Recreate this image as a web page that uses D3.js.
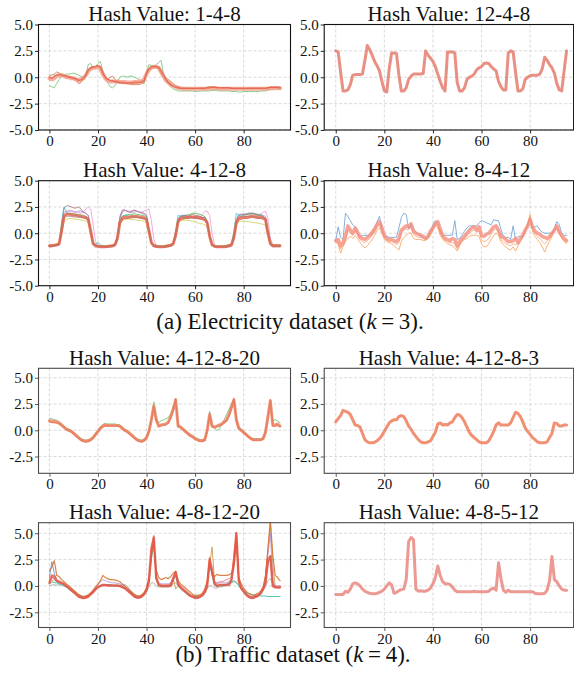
<!DOCTYPE html>
<html>
<head>
<meta charset="utf-8">
<script src="https://cdn.jsdelivr.net/npm/d3@7"></script>
<style>
  html, body { margin: 0; padding: 0; background: #fff; }
  svg { display: block; font-family: "Liberation Serif", "Times New Roman", serif; }
</style>
</head>
<body>
<svg id="chart" width="574" height="677"></svg>
<script>
// ---- data (x = 0..95) ----
const xTicks = [0, 20, 40, 60, 80];
const yTicksElec = [5.0, 2.5, 0.0, -2.5, -5.0];
const yTicksTraffic = [5.0, 2.5, 0.0, -2.5];

const titles = ['Hash Value: 1-4-8', 'Hash Value: 12-4-8', 'Hash Value: 4-12-8', 'Hash Value: 8-4-12',
    'Hash Value: 4-12-8-20', 'Hash Value: 4-12-8-3', 'Hash Value: 4-8-12-20', 'Hash Value: 4-8-5-12'];

// Hash 1-4-8
const p1Main = [-0.1,-0.2,-0.1,0.1,0.2,0.2,0.1,0.0,0.0,-0.1,-0.1,-0.2,
    -0.3,-0.2,-0.1,0.2,0.6,0.8,0.9,0.9,1.0,0.8,0.3,-0.1,
    -0.3,-0.4,-0.4,-0.4,-0.4,-0.45,-0.45,-0.45,-0.5,-0.5,-0.5,-0.45,
    -0.45,-0.4,-0.4,-0.2,0.3,0.7,0.9,1.0,1.0,0.9,0.5,0.1,
    -0.3,-0.5,-0.7,-0.8,-0.9,-1.0,-1.05,-1.1,-1.1,-1.1,-1.1,-1.1,
    -1.1,-1.1,-1.1,-1.1,-1.1,-1.1,-1.05,-1.05,-1.05,-1.05,-1.1,-1.1,
    -1.1,-1.1,-1.1,-1.1,-1.1,-1.1,-1.1,-1.1,-1.1,-1.1,-1.1,-1.1,
    -1.1,-1.1,-1.1,-1.1,-1.1,-1.1,-1.1,-1.05,-1.05,-1.05,-1.05,-1.05];
const p1Brown = [0.2,0.2,0.3,0.5,0.4,0.3,0.2,0.1,0.0,-0.1,-0.2,-0.3,
    -0.6,-0.5,-0.2,0.1,0.5,0.8,0.9,1.0,1.0,0.9,0.3,-0.1,
    -0.2,0.0,0.1,-0.2,-0.4,-0.5,-0.6,-0.6,-0.6,-0.65,-0.7,-0.7,
    -0.7,-0.7,-0.6,-0.5,0.3,0.7,0.8,0.9,0.9,0.8,0.3,0.0,
    -0.1,-0.2,-0.4,-0.6,-0.8,-0.9,-1.0,-1.0,-1.0,-1.05,-1.05,-1.05,
    -1.05,-1.05,-1.0,-1.0,-1.0,-0.95,-0.9,-0.9,-0.95,-0.95,-1.0,-1.0,
    -1.0,-1.0,-1.0,-1.0,-1.05,-1.05,-1.05,-1.05,-1.05,-1.05,-1.05,-1.0,
    -1.0,-1.0,-1.0,-1.0,-1.0,-1.0,-1.0,-0.95,-0.95,-0.95,-0.95,-0.95];
const p1Green = [-0.8,-0.9,-1.0,-0.6,-0.2,0.1,0.2,0.3,0.3,0.35,0.4,0.3,
    0.2,0.1,0.0,0.3,1.2,1.3,0.9,1.0,1.3,1.5,0.6,0.0,
    -0.5,-0.9,-1.0,-0.8,-0.4,0.0,0.1,0.1,0.0,0.1,0.1,0.0,
    -0.1,-0.2,-0.4,-0.6,0.6,1.2,1.1,1.0,1.2,1.4,1.6,0.3,
    -0.3,-0.6,-0.9,-1.1,-1.2,-1.3,-1.3,-1.3,-1.3,-1.3,-1.3,-1.3,
    -1.35,-1.35,-1.3,-1.3,-1.3,-1.3,-1.3,-1.25,-1.25,-1.25,-1.3,-1.3,
    -1.3,-1.3,-1.3,-1.35,-1.35,-1.35,-1.4,-1.4,-1.35,-1.35,-1.35,-1.35,
    -1.35,-1.35,-1.35,-1.3,-1.3,-1.3,-1.2,-1.15,-1.1,-1.1,-1.1,-1.05];
const p1Red = [0.0,-0.1,0.1,0.2,0.25,0.2,0.15,0.1,0.0,0.0,-0.1,-0.15,
    -0.3,-0.25,-0.1,0.2,0.7,0.9,1.0,1.0,1.1,1.0,0.4,0.0,
    -0.2,-0.3,-0.35,-0.4,-0.45,-0.5,-0.5,-0.55,-0.55,-0.55,-0.55,-0.5,
    -0.5,-0.5,-0.45,-0.3,0.4,0.8,1.0,1.05,1.0,0.95,0.6,0.2,
    -0.2,-0.5,-0.7,-0.85,-0.95,-1.0,-1.05,-1.05,-1.05,-1.05,-1.05,-1.05,
    -1.05,-1.05,-1.05,-1.05,-1.05,-1.0,-1.0,-0.95,-0.95,-1.0,-1.0,-1.0,
    -1.0,-1.0,-1.0,-1.05,-1.05,-1.05,-1.05,-1.05,-1.05,-1.05,-1.05,-1.05,
    -1.05,-1.05,-1.05,-1.05,-1.05,-1.05,-1.0,-0.95,-0.95,-0.95,-0.95,-1.0];

// Hash 12-4-8
const p2Main = [2.5,2.4,0.5,-1.3,-1.3,-1.2,-0.7,0.2,0.25,0.25,0.25,0.3,
    1.6,3.0,2.6,2.1,1.5,1.1,0.6,-0.4,-1.3,-1.4,0.8,2.3,
    2.3,2.25,0.2,-1.3,-1.3,-1.0,-0.2,0.1,0.3,0.3,0.3,0.3,
    0.35,2.5,2.1,1.8,1.5,1.0,0.3,-0.4,-1.0,-1.3,2.4,2.4,
    2.4,2.3,-0.5,-1.3,-1.3,-1.0,-0.2,0.0,0.1,0.3,0.7,0.9,
    1.0,1.3,1.35,1.3,1.0,0.8,0.6,-0.4,-0.9,-1.2,-1.2,2.3,
    2.5,2.4,0.5,-1.3,-1.3,-1.1,-0.2,0.0,0.15,0.2,0.2,0.2,
    0.3,0.8,1.9,1.6,1.2,0.9,0.4,-0.6,-1.2,-1.3,0.6,2.5];

// Hash 4-12-8
const p3Main = [-1.2,-1.2,-1.15,-1.1,-1.0,
    0.2,1.6,1.8,1.8,1.75,1.7,1.7,1.65,1.6,1.55,1.5,1.3,0.2,-1.0,-1.2,-1.25,
    -1.3,-1.3,-1.3,-1.25,-1.25,-1.2,-1.1,
    -0.5,1.0,1.4,1.5,1.5,1.55,1.6,1.6,1.6,1.55,1.5,1.45,1.3,0.2,-0.9,-1.2,-1.25,
    -1.3,-1.3,-1.3,-1.25,-1.2,-1.15,-1.0,
    -0.2,1.1,1.4,1.45,1.5,1.5,1.55,1.55,1.5,1.5,1.45,1.4,1.3,1.0,-0.3,-1.1,-1.25,
    -1.3,-1.3,-1.3,-1.3,-1.25,-1.2,-1.1,
    -0.4,1.0,1.4,1.45,1.5,1.5,1.55,1.6,1.6,1.55,1.5,1.5,1.45,1.3,0.0,-1.0,-1.2,-1.2,-1.2,-1.2];
const p3Pink = [-1.2,-1.2,-1.2,-1.15,-1.1,
    0.5,2.0,2.1,2.2,2.2,2.1,2.0,2.0,1.9,2.0,2.3,2.5,2.3,0.8,-0.8,-1.2,
    -1.25,-1.3,-1.3,-1.3,-1.3,-1.25,-1.2,
    -0.8,1.5,2.2,2.2,2.1,2.1,2.1,2.2,2.1,2.0,2.0,2.1,2.2,2.3,1.2,-0.6,-1.2,
    -1.3,-1.3,-1.3,-1.3,-1.25,-1.2,-1.1,
    -0.5,1.0,1.5,1.6,1.6,1.5,1.5,1.4,1.4,1.4,1.5,1.8,2.1,2.1,1.7,0.0,-1.1,
    -1.3,-1.3,-1.3,-1.3,-1.3,-1.25,-1.2,
    -0.6,1.2,1.6,1.7,1.7,1.8,1.8,1.8,1.8,1.7,1.7,1.8,2.0,2.1,1.4,-0.5,-1.1,-1.2,-1.2,-1.2];
const p3Brown = [-1.25,-1.25,-1.2,-1.15,-1.1,
    0.8,2.4,2.6,2.6,2.5,2.4,2.4,2.5,2.3,2.0,1.9,1.7,0.3,-1.0,-1.2,-1.25,
    -1.3,-1.3,-1.3,-1.3,-1.25,-1.2,-1.15,
    -0.3,1.4,2.0,2.2,2.1,2.0,2.1,2.2,2.1,2.0,1.9,1.8,1.6,0.3,-0.9,-1.2,-1.3,
    -1.3,-1.3,-1.3,-1.3,-1.25,-1.2,-1.1,
    0.0,1.3,1.6,1.7,1.7,1.6,1.7,1.8,1.7,1.7,1.6,1.5,1.5,1.1,-0.3,-1.1,-1.3,
    -1.3,-1.3,-1.3,-1.3,-1.3,-1.25,-1.2,
    -0.3,1.2,1.7,1.8,1.8,1.8,1.9,1.9,1.9,1.8,1.7,1.7,1.6,1.4,0.1,-1.0,-1.2,-1.25,-1.25,-1.25];
const p3Olive = [-1.1,-1.1,-1.1,-1.05,-1.0,
    0.0,1.1,1.3,1.4,1.4,1.35,1.3,1.3,1.25,1.2,1.15,1.0,0.0,-1.0,-1.1,-1.15,
    -1.2,-1.2,-1.2,-1.2,-1.15,-1.1,-1.0,
    -0.5,0.8,1.2,1.3,1.35,1.35,1.3,1.3,1.25,1.2,1.2,1.1,1.0,0.0,-0.9,-1.1,-1.15,
    -1.2,-1.2,-1.2,-1.15,-1.1,-1.05,-1.0,
    -0.3,0.9,1.2,1.25,1.25,1.2,1.2,1.15,1.1,1.0,0.9,0.9,0.8,0.6,-0.4,-1.0,-1.15,
    -1.2,-1.2,-1.2,-1.2,-1.15,-1.1,-1.0,
    -0.5,0.8,1.1,1.15,1.15,1.1,1.1,1.05,1.0,1.0,0.95,0.9,0.85,0.8,-0.1,-0.9,-1.1,-1.1,-1.1,-1.1];
const p3Cyan = [-1.2,-1.2,-1.2,-1.15,-1.1,
    1.0,2.5,2.0,1.8,1.8,1.7,1.7,1.6,1.6,1.5,1.5,1.3,0.1,-1.0,-1.0,-0.9,
    -1.1,-1.2,-1.25,-1.25,-1.2,-1.2,-1.1,
    -0.4,1.1,1.6,1.7,1.7,1.6,1.6,1.6,1.55,1.5,1.5,1.5,1.3,0.2,-0.9,-1.2,-1.2,
    -1.25,-1.25,-1.25,-1.2,-1.2,-1.1,-1.0,
    0.2,1.7,1.6,1.5,1.5,1.5,1.5,1.5,1.5,1.45,1.4,1.4,1.3,0.9,-0.3,-1.1,-1.2,
    -1.25,-1.25,-1.25,-1.25,-1.2,-1.2,-1.0,
    0.2,1.9,1.7,1.6,1.6,1.6,1.6,1.6,1.6,1.55,1.5,1.5,1.45,1.3,0.0,-1.0,-1.2,-1.2,-1.2,-1.2];
const p3Green = [-1.15,-1.15,-1.15,-1.1,-1.05,
    0.1,1.5,1.8,1.9,1.9,1.85,1.8,1.8,1.75,1.7,1.6,1.4,0.2,-0.9,-1.15,-1.2,
    -1.2,-1.25,-1.25,-1.2,-1.2,-1.15,-1.05,
    -0.4,1.1,1.6,1.7,1.75,1.8,1.8,1.85,1.8,1.75,1.7,1.65,1.5,0.3,-0.8,-1.15,-1.2,
    -1.25,-1.25,-1.25,-1.2,-1.15,-1.1,-0.95,
    -0.1,1.2,1.5,1.6,1.7,1.75,1.8,1.9,1.9,1.85,1.8,1.7,1.6,1.2,-0.2,-1.05,-1.2,
    -1.25,-1.25,-1.25,-1.25,-1.2,-1.15,-1.05,
    -0.3,1.1,1.5,1.6,1.7,1.75,1.8,1.85,1.85,1.8,1.75,1.7,1.6,1.4,0.1,-0.95,-1.15,-1.15,-1.15,-1.15];
const p3Purple = [-1.2,-1.2,-1.2,-1.15,-1.1,
    0.3,1.8,2.0,2.1,2.1,2.0,2.0,2.1,2.1,2.0,1.9,1.7,0.4,-0.9,-1.2,-1.25,
    -1.3,-1.3,-1.3,-1.3,-1.25,-1.2,-1.1,
    -0.2,1.6,2.2,2.2,2.1,2.0,2.0,2.0,2.1,2.0,2.0,1.9,1.8,0.4,-0.8,-1.2,-1.3,
    -1.3,-1.3,-1.3,-1.3,-1.25,-1.2,-1.05,
    -0.1,1.3,1.7,1.7,1.7,1.65,1.6,1.6,1.6,1.6,1.55,1.5,1.5,1.1,-0.3,-1.1,-1.25,
    -1.3,-1.3,-1.3,-1.3,-1.3,-1.25,-1.15,
    -0.2,1.3,1.8,1.8,1.8,1.85,1.9,1.9,1.9,1.85,1.8,1.8,1.7,1.6,0.2,-0.9,-1.2,-1.25,-1.25,-1.25];
const p3Gray = [-1.3,-1.3,-1.25,-1.2,-1.15,
    0.0,1.4,1.6,1.6,1.6,1.55,1.5,1.5,1.5,1.45,1.4,1.2,0.0,-1.1,-1.3,-1.3,
    -1.35,-1.35,-1.35,-1.35,-1.3,-1.3,-1.2,
    -0.6,0.9,1.3,1.4,1.4,1.45,1.45,1.5,1.5,1.45,1.4,1.35,1.2,0.1,-1.0,-1.3,-1.35,
    -1.35,-1.35,-1.35,-1.3,-1.3,-1.25,-1.1,
    -0.3,1.0,1.3,1.35,1.4,1.4,1.45,1.45,1.4,1.4,1.35,1.3,1.2,0.9,-0.4,-1.2,-1.3,
    -1.35,-1.35,-1.35,-1.35,-1.3,-1.3,-1.2,
    -0.5,0.9,1.3,1.35,1.4,1.4,1.45,1.5,1.5,1.45,1.4,1.4,1.35,1.2,-0.1,-1.1,-1.3,-1.3,-1.3,-1.3];

// Hash 8-4-12
const p4Main = [-0.7,-0.6,-1.2,-0.9,-0.3,0.7,0.3,0.0,0.5,0.1,-0.4,-0.5,
    -0.6,-0.4,-0.2,0.1,0.4,0.8,1.1,0.5,-0.2,-0.5,-0.6,-0.6,
    -0.7,-0.8,-0.5,0.3,0.5,0.7,0.6,0.9,0.2,0.0,-0.1,-0.2,
    -0.3,-0.5,-0.3,0.2,0.5,0.9,1.1,0.4,-0.2,-0.5,-0.6,-0.7,
    -0.5,-0.6,-1.2,-0.8,-0.5,-0.3,0.0,0.3,0.5,0.6,0.3,0.6,
    -0.2,-0.3,-0.1,0.0,0.3,0.6,0.7,0.3,-0.3,-0.4,-0.6,-0.8,
    -0.8,-0.7,-0.5,-0.9,-0.5,-0.2,0.3,0.7,1.3,0.6,0.2,0.0,
    -0.1,-0.3,-0.4,-0.5,-0.3,0.0,0.3,0.7,0.1,-0.2,-0.5,-0.7];
const p4Blue = [-0.7,0.6,-0.4,-0.6,1.9,1.6,1.2,0.8,0.6,-0.1,-0.3,-0.2,
    -0.2,-0.2,-0.2,-0.1,0.5,1.1,1.6,0.5,-0.3,-0.3,-0.4,-0.4,
    -0.4,-0.4,0.5,1.5,1.9,1.8,0.4,0.9,0.4,0.1,-0.1,-0.2,
    -0.4,-0.5,-0.3,0.2,0.8,1.2,0.9,0.3,-0.2,-0.2,-0.2,-0.2,
    -0.2,1.2,-0.6,-0.5,-0.2,0.2,0.5,0.7,0.7,0.7,0.7,1.0,
    1.2,1.1,1.0,0.9,0.8,1.3,1.2,1.2,0.4,-0.3,-0.4,-0.4,
    -0.6,0.7,-0.6,-0.3,-0.3,-0.3,0.3,0.7,1.6,0.5,0.6,0.7,
    0.3,0.1,0.0,0.0,0.0,0.0,0.5,1.1,0.8,0.0,-0.2,-0.2];
const p4Orange = [-0.9,-1.0,-1.9,-1.3,-0.8,-0.5,-0.3,-0.5,-0.2,-0.5,-0.9,-1.2,
    -1.4,-1.2,-0.9,-0.6,-0.2,0.3,0.5,0.0,-0.6,-0.8,-0.9,-1.0,
    -1.2,-1.4,-1.6,-0.8,-0.4,-0.2,0.0,0.0,-0.5,-0.6,-0.6,-0.6,
    -0.7,-0.7,-0.5,-0.2,0.3,0.8,0.5,-0.2,-0.6,-0.8,-1.0,-1.1,
    -1.2,-1.4,-1.7,-1.2,-0.8,-0.6,-0.5,-0.3,-0.2,-0.2,-0.2,-0.3,
    -1.0,-1.3,-1.3,-1.0,-0.6,-0.2,0.0,-0.2,-0.8,-1.1,-1.3,-1.5,
    -1.6,-1.3,-1.7,-1.2,-0.8,-0.4,0.3,0.9,1.8,0.2,-0.3,-0.6,
    -0.9,-1.3,-1.8,-1.2,-0.8,-0.3,0.2,0.6,0.0,-0.5,-0.8,-1.0];
const p4Light = [-0.8,-0.9,-1.5,-1.1,-0.6,0.3,0.0,-0.2,0.2,-0.1,-0.6,-0.8,
    -0.9,-0.7,-0.5,-0.2,0.1,0.6,0.9,0.3,-0.4,-0.7,-0.8,-0.8,
    -0.9,-1.1,-0.9,0.0,0.3,0.4,0.3,0.6,-0.1,-0.3,-0.4,-0.4,
    -0.5,-0.6,-0.4,0.0,0.4,0.9,0.8,0.1,-0.4,-0.7,-0.8,-0.9,
    -0.9,-1.0,-1.5,-1.0,-0.7,-0.5,-0.2,0.0,0.2,0.3,0.1,0.2,
    -0.6,-0.8,-0.7,-0.5,-0.1,0.3,0.4,0.1,-0.6,-0.8,-1.0,-1.1,
    -1.2,-1.0,-1.1,-1.0,-0.7,-0.3,0.3,0.8,1.5,0.4,0.0,-0.3,
    -0.5,-0.8,-1.0,-0.8,-0.5,-0.1,0.2,0.6,0.0,-0.4,-0.7,-0.9];

// Hash 4-12-8-20
const p5Main = [0.9,0.85,0.85,0.8,0.7,0.5,0.3,0.1,0.0,-0.1,-0.3,-0.5,
    -0.7,-0.9,-1.0,-1.05,-1.0,-0.9,-0.7,-0.4,-0.1,0.2,0.4,0.5,
    0.45,0.45,0.45,0.45,0.45,0.4,0.2,0.0,-0.1,-0.3,-0.5,-0.7,
    -0.9,-1.0,-1.05,-0.95,-0.7,-0.1,1.0,2.3,1.0,0.4,0.5,0.55,
    0.6,0.8,1.3,2.0,2.9,0.4,0.3,0.1,-0.1,-0.3,-0.5,-0.6,
    -0.8,-0.9,-1.0,-1.0,-0.9,0.0,1.5,0.4,0.3,0.4,0.5,0.6,
    0.8,1.0,1.5,2.2,2.9,1.0,0.2,0.0,-0.2,-0.4,-0.6,-0.8,
    -0.9,-0.9,-0.9,-0.9,-0.8,-0.2,1.3,2.8,0.5,0.5,0.6,0.4];
const p5Green = [1.1,1.1,1.0,0.95,0.8,0.6,0.4,0.2,0.1,0.0,-0.2,-0.4,
    -0.6,-0.8,-0.9,-0.95,-0.9,-0.8,-0.6,-0.3,0.0,0.3,0.55,0.65,
    0.6,0.6,0.6,0.6,0.55,0.5,0.3,0.1,0.0,-0.2,-0.4,-0.6,
    -0.8,-0.9,-0.95,-0.85,-0.6,0.0,1.2,2.7,1.2,0.7,0.9,1.0,
    1.1,1.2,1.6,2.3,2.8,0.6,0.4,0.2,0.0,-0.2,-0.4,-0.5,
    -0.7,-0.8,-0.9,-0.9,-0.8,0.1,1.8,0.6,0.2,0.0,0.1,0.6,
    1.0,1.5,2.0,2.5,3.0,1.2,0.3,0.1,-0.1,-0.3,-0.5,-0.7,
    -0.8,-0.8,-0.8,-0.8,-0.7,-0.1,1.2,2.7,0.9,1.0,0.9,0.7];
const p5Red = [0.8,0.75,0.75,0.7,0.6,0.45,0.25,0.05,-0.05,-0.15,-0.35,-0.55,
    -0.75,-0.95,-1.05,-1.1,-1.05,-0.95,-0.75,-0.45,-0.15,0.15,0.35,0.45,
    0.4,0.4,0.4,0.4,0.4,0.35,0.15,-0.05,-0.15,-0.35,-0.55,-0.75,
    -0.95,-1.05,-1.1,-1.0,-0.75,-0.15,0.9,2.2,0.9,0.35,0.45,0.5,
    0.55,0.7,1.2,1.9,3.0,0.35,0.25,0.05,-0.15,-0.35,-0.55,-0.65,
    -0.85,-0.95,-1.05,-1.05,-0.95,-0.05,1.4,0.35,0.25,0.35,0.45,0.55,
    0.7,0.9,1.4,2.1,3.0,0.9,0.15,-0.05,-0.25,-0.45,-0.65,-0.85,
    -0.95,-0.95,-0.95,-0.95,-0.85,-0.25,1.2,2.9,0.4,0.4,0.5,0.35];

// Hash 4-12-8-3
const p6Main = [0.8,1.1,1.4,1.9,1.8,1.7,1.5,1.0,0.5,0.45,0.3,-0.3,
    -0.9,-1.1,-1.2,-1.2,-1.15,-1.0,-0.8,-0.5,-0.1,0.3,0.7,0.9,
    1.0,1.0,1.3,1.4,1.3,0.9,0.4,0.1,-0.3,-0.6,-0.9,-1.1,
    -1.2,-1.2,-1.1,-1.0,-0.6,-0.2,0.6,0.7,0.5,0.55,0.5,0.7,
    0.8,1.2,1.5,1.45,1.2,0.8,0.3,-0.2,-0.5,-0.7,-0.9,-1.1,
    -1.2,-1.2,-1.2,-1.0,-0.6,-0.1,0.5,0.7,0.5,0.5,0.5,0.5,
    0.7,1.2,1.7,1.6,1.3,0.8,0.2,-0.1,-0.4,-0.7,-0.9,-1.1,
    -1.2,-1.2,-1.2,-1.1,-0.7,-0.3,0.7,0.65,0.4,0.4,0.5,0.5];

// Hash 4-8-12-20
const p7Main = [0.3,1.0,0.9,0.5,0.4,0.3,0.2,0.0,-0.2,-0.4,-0.6,-0.8,
    -1.0,-1.1,-1.15,-1.1,-1.0,-0.8,-0.6,-0.3,-0.1,0.0,0.1,0.1,
    0.05,0.05,0.05,0.05,0.05,0.0,-0.1,-0.2,-0.4,-0.6,-0.8,-1.0,
    -1.1,-1.1,-1.0,-0.8,-0.4,0.5,3.5,4.6,0.8,0.1,0.0,0.0,
    0.0,0.0,0.0,0.7,1.3,0.2,-0.1,-0.3,-0.5,-0.7,-0.9,-1.0,
    -1.1,-1.1,-1.0,-0.9,-0.6,0.0,2.5,1.5,0.2,0.0,0.1,0.1,
    0.1,0.1,0.1,0.6,2.2,5.0,0.5,-0.2,-0.5,-0.8,-1.0,-1.1,
    -1.1,-1.0,-0.9,-0.7,-0.3,0.3,2.5,2.8,0.0,-0.1,-0.1,-0.1];
const p7Orange = [1.4,1.8,2.4,1.0,0.9,0.6,0.4,0.2,0.0,-0.2,-0.4,-0.6,
    -0.8,-0.9,-1.0,-0.95,-0.85,-0.65,-0.4,-0.1,0.2,0.5,1.0,0.8,
    0.7,0.6,0.6,0.55,0.5,0.4,0.2,0.0,-0.2,-0.4,-0.6,-0.8,
    -0.9,-0.95,-0.85,-0.6,-0.2,0.8,3.0,4.0,1.5,0.8,0.6,0.7,
    0.8,0.7,0.9,1.2,1.4,0.5,0.2,0.0,-0.2,-0.4,-0.6,-0.8,
    -0.9,-0.9,-0.85,-0.7,-0.3,0.5,2.7,1.0,0.9,1.1,1.0,1.0,
    1.0,1.0,1.05,1.2,2.0,5.0,0.8,0.2,-0.2,-0.5,-0.7,-0.8,
    -0.9,-0.8,-0.7,-0.5,-0.1,1.0,3.5,6.2,3.0,1.0,0.8,0.5];
const p7Olive = [0.2,0.5,0.6,0.4,0.3,0.2,0.1,0.0,-0.2,-0.4,-0.6,-0.8,
    -1.0,-1.1,-1.15,-1.1,-1.0,-0.8,-0.6,-0.3,-0.1,0.0,0.1,0.1,
    0.1,0.1,0.05,0.05,0.0,0.0,-0.1,-0.2,-0.4,-0.6,-0.8,-1.0,
    -1.05,-1.05,-0.95,-0.75,-0.4,0.4,3.0,4.2,0.6,0.0,0.0,0.0,
    0.0,0.1,0.3,0.8,-0.3,0.0,-0.2,-0.4,-0.6,-0.8,-0.9,-1.0,
    -1.1,-1.1,-1.0,-0.85,-0.5,0.3,2.0,3.7,0.5,0.0,0.0,0.1,
    0.1,0.2,0.3,0.6,2.5,4.0,0.3,-0.3,-0.6,-0.8,-0.9,-1.0,
    -1.0,-0.95,-0.85,-0.6,-0.2,0.8,3.5,6.0,2.0,0.0,-0.1,-0.1];
const p7Teal = [0.2,0.4,0.3,0.3,0.2,0.1,0.0,-0.1,-0.3,-0.5,-0.6,-0.8,
    -0.9,-1.0,-1.0,-0.95,-0.9,-0.7,-0.5,-0.3,-0.1,0.0,0.1,0.1,
    0.1,0.1,0.05,0.0,0.0,-0.05,-0.1,-0.2,-0.4,-0.5,-0.7,-0.9,
    -1.0,-1.0,-0.9,-0.7,-0.4,0.3,2.5,4.0,0.7,0.0,0.0,0.0,
    0.0,0.0,0.1,0.5,1.0,0.0,-0.2,-0.4,-0.6,-0.7,-0.9,-1.0,
    -1.0,-1.0,-0.95,-0.8,-0.5,0.2,2.0,1.0,0.1,0.0,0.0,0.0,
    0.1,0.1,0.2,0.4,0.5,0.3,0.0,-0.3,-0.5,-0.6,-0.7,-0.8,
    -0.85,-0.9,-0.9,-0.95,-0.95,-0.95,-1.0,-1.0,-1.0,-1.0,-1.0,-1.0];
const p7Gray = [0.0,0.1,0.1,0.1,0.1,0.1,0.0,-0.1,-0.2,-0.3,-0.5,-0.7,
    -0.9,-1.0,-1.05,-1.0,-0.9,-0.75,-0.55,-0.35,-0.15,-0.05,0.0,0.05,
    0.05,0.05,0.05,0.05,0.05,0.05,0.1,0.15,0.0,-0.3,-0.6,-0.8,
    -1.0,-1.0,-0.95,-0.8,-0.5,-0.1,0.3,0.3,0.0,-0.1,-0.1,-0.1,
    -0.1,-0.1,0.0,0.2,0.3,0.0,-0.3,-0.5,-0.7,-0.9,-1.0,-1.1,
    -1.15,-1.15,-1.1,-0.9,-0.6,-0.2,0.0,0.0,-0.2,-0.2,-0.1,-0.1,
    0.0,0.1,0.2,0.3,0.4,0.4,0.0,-0.3,-0.5,-0.7,-0.9,-1.0,
    -1.05,-1.0,-0.9,-0.7,-0.4,-0.1,0.5,0.7,0.2,-0.1,-0.2,-0.2];
const p7Blue = [0.8,2.3,1.2,0.5,0.4,0.3,0.2,0.0,-0.2,-0.4,-0.6,-0.8,
    -1.0,-1.1,-1.1,-1.05,-0.95,-0.75,-0.55,-0.3,-0.1,0.0,0.1,0.1,
    0.1,0.1,0.05,0.05,0.05,0.0,-0.1,-0.2,-0.4,-0.6,-0.8,-1.0,
    -1.1,-1.1,-1.0,-0.8,-0.4,0.5,3.2,4.5,0.8,0.1,0.0,0.0,
    0.0,0.0,0.1,0.6,1.2,0.2,-0.1,-0.3,-0.5,-0.7,-0.9,-1.0,
    -1.1,-1.1,-1.0,-0.9,-0.6,0.0,2.3,1.2,0.2,0.0,0.1,0.1,
    0.1,0.1,0.2,0.5,2.0,4.5,0.5,-0.2,-0.5,-0.8,-1.0,-1.1,
    -1.1,-1.0,-0.9,-0.7,-0.3,0.3,2.0,2.9,0.1,-0.1,-0.1,-0.1];
const p7Purple = [0.4,0.9,0.7,0.4,0.3,0.2,0.1,0.0,-0.2,-0.4,-0.6,-0.8,
    -1.0,-1.1,-1.1,-1.05,-0.95,-0.7,-0.4,-0.1,0.1,0.4,0.6,0.5,
    0.4,0.35,0.3,0.3,0.25,0.2,0.1,0.0,-0.2,-0.4,-0.7,-0.9,
    -1.0,-1.0,-0.95,-0.75,-0.3,0.6,3.0,4.3,0.9,0.3,0.2,0.2,
    0.2,0.2,0.3,0.8,1.2,0.2,-0.1,-0.3,-0.5,-0.7,-0.9,-1.0,
    -1.1,-1.1,-1.0,-0.85,-0.5,0.2,2.2,1.3,0.3,0.2,0.3,0.3,
    0.3,0.3,0.4,0.7,2.5,4.8,0.6,-0.1,-0.4,-0.7,-0.9,-1.0,
    -1.0,-0.95,-0.85,-0.6,-0.2,0.5,3.0,5.0,0.5,0.0,0.0,0.0];
const p7Pink = [0.5,0.8,0.7,0.45,0.35,0.25,0.15,0.0,-0.2,-0.4,-0.6,-0.8,
    -1.0,-1.1,-1.2,-1.15,-1.05,-0.85,-0.6,-0.35,-0.15,-0.05,0.05,0.05,
    0.0,0.0,0.0,0.0,0.0,-0.05,-0.15,-0.25,-0.45,-0.65,-0.85,-1.05,
    -1.15,-1.15,-1.05,-0.85,-0.45,0.4,3.6,4.8,0.6,0.2,0.1,0.1,
    0.1,0.1,0.2,0.8,1.4,0.1,-0.2,-0.4,-0.6,-0.8,-1.0,-1.1,
    -1.2,-1.2,-1.1,-0.95,-0.65,-0.05,2.6,1.4,0.3,0.3,0.4,0.4,
    0.5,0.6,0.7,0.9,3.0,5.1,0.4,-0.3,-0.6,-0.9,-1.1,-1.2,
    -1.2,-1.1,-1.0,-0.8,-0.4,0.2,2.3,2.6,-0.1,-0.2,-0.2,-0.2];

// Hash 4-8-5-12
const p8Main = [-0.8,-0.8,-0.8,-0.8,-0.5,-0.6,-0.3,0.2,0.3,0.2,0.0,-0.3,
    -0.5,-0.6,-0.7,-0.75,-0.75,-0.7,-0.6,-0.5,-0.3,0.0,0.3,0.1,
    -0.7,-0.6,-0.45,-0.35,-0.3,0.6,4.2,4.6,4.4,-0.3,-0.5,-0.45,
    -0.5,-0.5,-0.4,-0.2,0.2,0.8,1.9,1.0,0.4,0.2,0.2,0.15,
    -0.1,-0.4,-0.55,-0.55,-0.55,-0.55,-0.55,-0.55,-0.55,-0.5,-0.55,-0.55,
    -0.55,-0.55,-0.55,-0.5,-0.3,-0.2,-0.4,2.2,0.7,-0.4,-0.6,-0.4,
    -0.55,-0.55,-0.55,-0.55,-0.55,-0.55,-0.55,-0.55,-0.55,-0.55,-0.7,-0.75,
    -0.75,-0.75,-0.7,-0.4,0.5,2.8,0.6,0.4,0.0,-0.3,-0.4,-0.4];

// ---- layout ----
const colX = [
    { left: 38.5, right: 290.5, domain: [-4.5, 99.3] },
    { left: 324.2, right: 573.6, domain: [-4.75, 97.9] },
];
const rowY = [
    { top: 24.5, bottom: 130, domain: [-5, 5], ticks: yTicksElec, spine: '#111' },
    { top: 180.7, bottom: 285.7, domain: [-5, 5], ticks: yTicksElec, spine: '#111' },
    { top: 368.3, bottom: 473.3, domain: [-4.1, 5.9], ticks: yTicksTraffic, spine: '#4a4a4a' },
    { top: 522.7, bottom: 627.5, domain: [-3.94, 6.0], ticks: yTicksTraffic, spine: '#4a4a4a' },
];

// style per series (kept apart from the values)
const thin = (c, o) => ({ color: c, width: 1, opacity: o == null ? 0.75 : o });
const panels = [
    { row: 0, col: 0, series: [
        [p1Green, thin('#7cc97c', 0.9)],
        [p1Brown, thin('#c8783c', 0.85)],
        [p1Main, { color: '#f59a86', width: 4, opacity: 0.8 }],
        [p1Red, { color: '#e05a44', width: 1.4, opacity: 0.75 }],
    ] },
    { row: 0, col: 1, series: [
        [p2Main, { color: '#e57d6e', width: 3, opacity: 0.85 }],
    ] },
    { row: 1, col: 0, series: [
        [p3Gray, thin('#9a9a9a')],
        [p3Olive, thin('#c9c94a')],
        [p3Pink, thin('#e98fd0')],
        [p3Brown, thin('#9a6a5e')],
        [p3Purple, thin('#a687c9')],
        [p3Cyan, thin('#2bbfd0')],
        [p3Green, thin('#4aae4a')],
        [p3Main, { color: '#e8624c', width: 3, opacity: 0.8 }],
    ] },
    { row: 1, col: 1, series: [
        [p4Blue, thin('#6fa3d6', 0.85)],
        [p4Orange, thin('#fda35a', 0.85)],
        [p4Light, thin('#f7a080', 0.8)],
        [p4Main, { color: '#f58c7c', width: 3.5, opacity: 0.8 }],
    ] },
    { row: 2, col: 0, series: [
        [p5Green, thin('#6cc36c', 0.85)],
        [p5Red, { color: '#e8603e', width: 1.5, opacity: 0.8 }],
        [p5Main, { color: '#ec8060', width: 3, opacity: 0.8 }],
    ] },
    { row: 2, col: 1, series: [
        [p6Main, { color: '#ee7c5a', width: 3, opacity: 0.85 }],
    ] },
    { row: 3, col: 0, series: [
        [p7Gray, thin('#b0b0b0', 0.9)],
        [p7Teal, thin('#3cbf9c', 0.9)],
        [p7Olive, thin('#c9a055', 0.9)],
        [p7Blue, thin('#5b95d2', 0.85)],
        [p7Purple, thin('#b595dc', 0.85)],
        [p7Orange, { color: '#d4702c', width: 1.2, opacity: 0.85 }],
        [p7Pink, thin('#f07070', 0.85)],
        [p7Main, { color: '#e8503c', width: 2.5, opacity: 0.75 }],
    ] },
    { row: 3, col: 1, series: [
        [p8Main, { color: '#e8877f', width: 3, opacity: 0.85 }],
    ] },
];

const svg = d3.select('#chart');
const fmt = (d) => d.toFixed(1);
const serif = '"Liberation Serif", "Times New Roman", serif';

panels.forEach((p, i) => {
    const cx = colX[p.col];
    const ry = rowY[p.row];
    const x = d3.scaleLinear().domain(cx.domain).range([cx.left, cx.right]);
    const y = d3.scaleLinear().domain(ry.domain).range([ry.bottom, ry.top]);

    const g = svg.append('g');
    const clipId = `clip-${i}`;
    g.append('clipPath').attr('id', clipId)
        .append('rect')
        .attr('x', cx.left).attr('y', ry.top)
        .attr('width', cx.right - cx.left).attr('height', ry.bottom - ry.top);

    // grid
    const grid = g.append('g').attr('stroke', '#cfcfcf').attr('stroke-width', 0.8)
        .attr('stroke-dasharray', '3,2');
    grid.selectAll('line.gx').data(xTicks).join('line')
        .attr('x1', (d) => x(d)).attr('x2', (d) => x(d))
        .attr('y1', ry.top).attr('y2', ry.bottom);
    grid.selectAll('line.gy').data(ry.ticks).join('line')
        .attr('class', 'gy')
        .attr('x1', cx.left).attr('x2', cx.right)
        .attr('y1', (d) => y(d)).attr('y2', (d) => y(d));

    // series
    const line = d3.line().x((d, k) => x(k)).y((d) => y(d));
    const lines = g.append('g').attr('clip-path', `url(#${clipId})`);
    p.series.forEach(([vals, st]) => {
        lines.append('path')
            .datum(vals)
            .attr('d', line)
            .attr('fill', 'none')
            .attr('stroke', st.color)
            .attr('stroke-width', st.width)
            .attr('stroke-opacity', st.opacity)
            .attr('stroke-linejoin', 'round')
            .attr('stroke-linecap', 'round');
    });

    // axes
    const xAxis = g.append('g')
        .attr('transform', `translate(0,${ry.bottom})`)
        .call(d3.axisBottom(x).tickValues(xTicks).tickFormat((d) => d).tickSize(3.5).tickPadding(2));
    const yAxis = g.append('g')
        .attr('transform', `translate(${cx.left},0)`)
        .call(d3.axisLeft(y).tickValues(ry.ticks).tickFormat(fmt).tickSize(3.5).tickPadding(2));
    [xAxis, yAxis].forEach((a) => {
        a.attr('font-family', serif);
        a.select('.domain').remove();
        a.selectAll('line').attr('stroke', ry.spine).attr('stroke-width', 0.9);
        a.selectAll('text').attr('font-size', 15).attr('fill', '#111');
    });

    // frame
    g.append('rect')
        .attr('x', cx.left).attr('y', ry.top)
        .attr('width', cx.right - cx.left).attr('height', ry.bottom - ry.top)
        .attr('fill', 'none').attr('stroke', ry.spine).attr('stroke-width', 1.1);

    // title
    g.append('text')
        .attr('x', (cx.left + cx.right) / 2)
        .attr('y', ry.top - 3.5)
        .attr('text-anchor', 'middle')
        .attr('font-family', serif)
        .attr('font-size', 21)
        .attr('fill', '#111')
        .text(titles[i]);
});

// captions
const captions = [
    { label: '(a) Electricity dataset (', k: '3', x: 290, y: 329 },
    { label: '(b) Traffic dataset (', k: '4', x: 293, y: 661.5 },
];
captions.forEach((c) => {
    const t = svg.append('text')
        .attr('x', c.x).attr('y', c.y)
        .attr('text-anchor', 'middle')
        .attr('font-family', serif)
        .attr('font-size', 23)
        .attr('fill', '#111');
    t.append('tspan').text(c.label);
    t.append('tspan').attr('font-style', 'italic').text('k');
    t.append('tspan').text('\u2009=\u2009' + c.k + ').');
});
</script>
</body>
</html>
